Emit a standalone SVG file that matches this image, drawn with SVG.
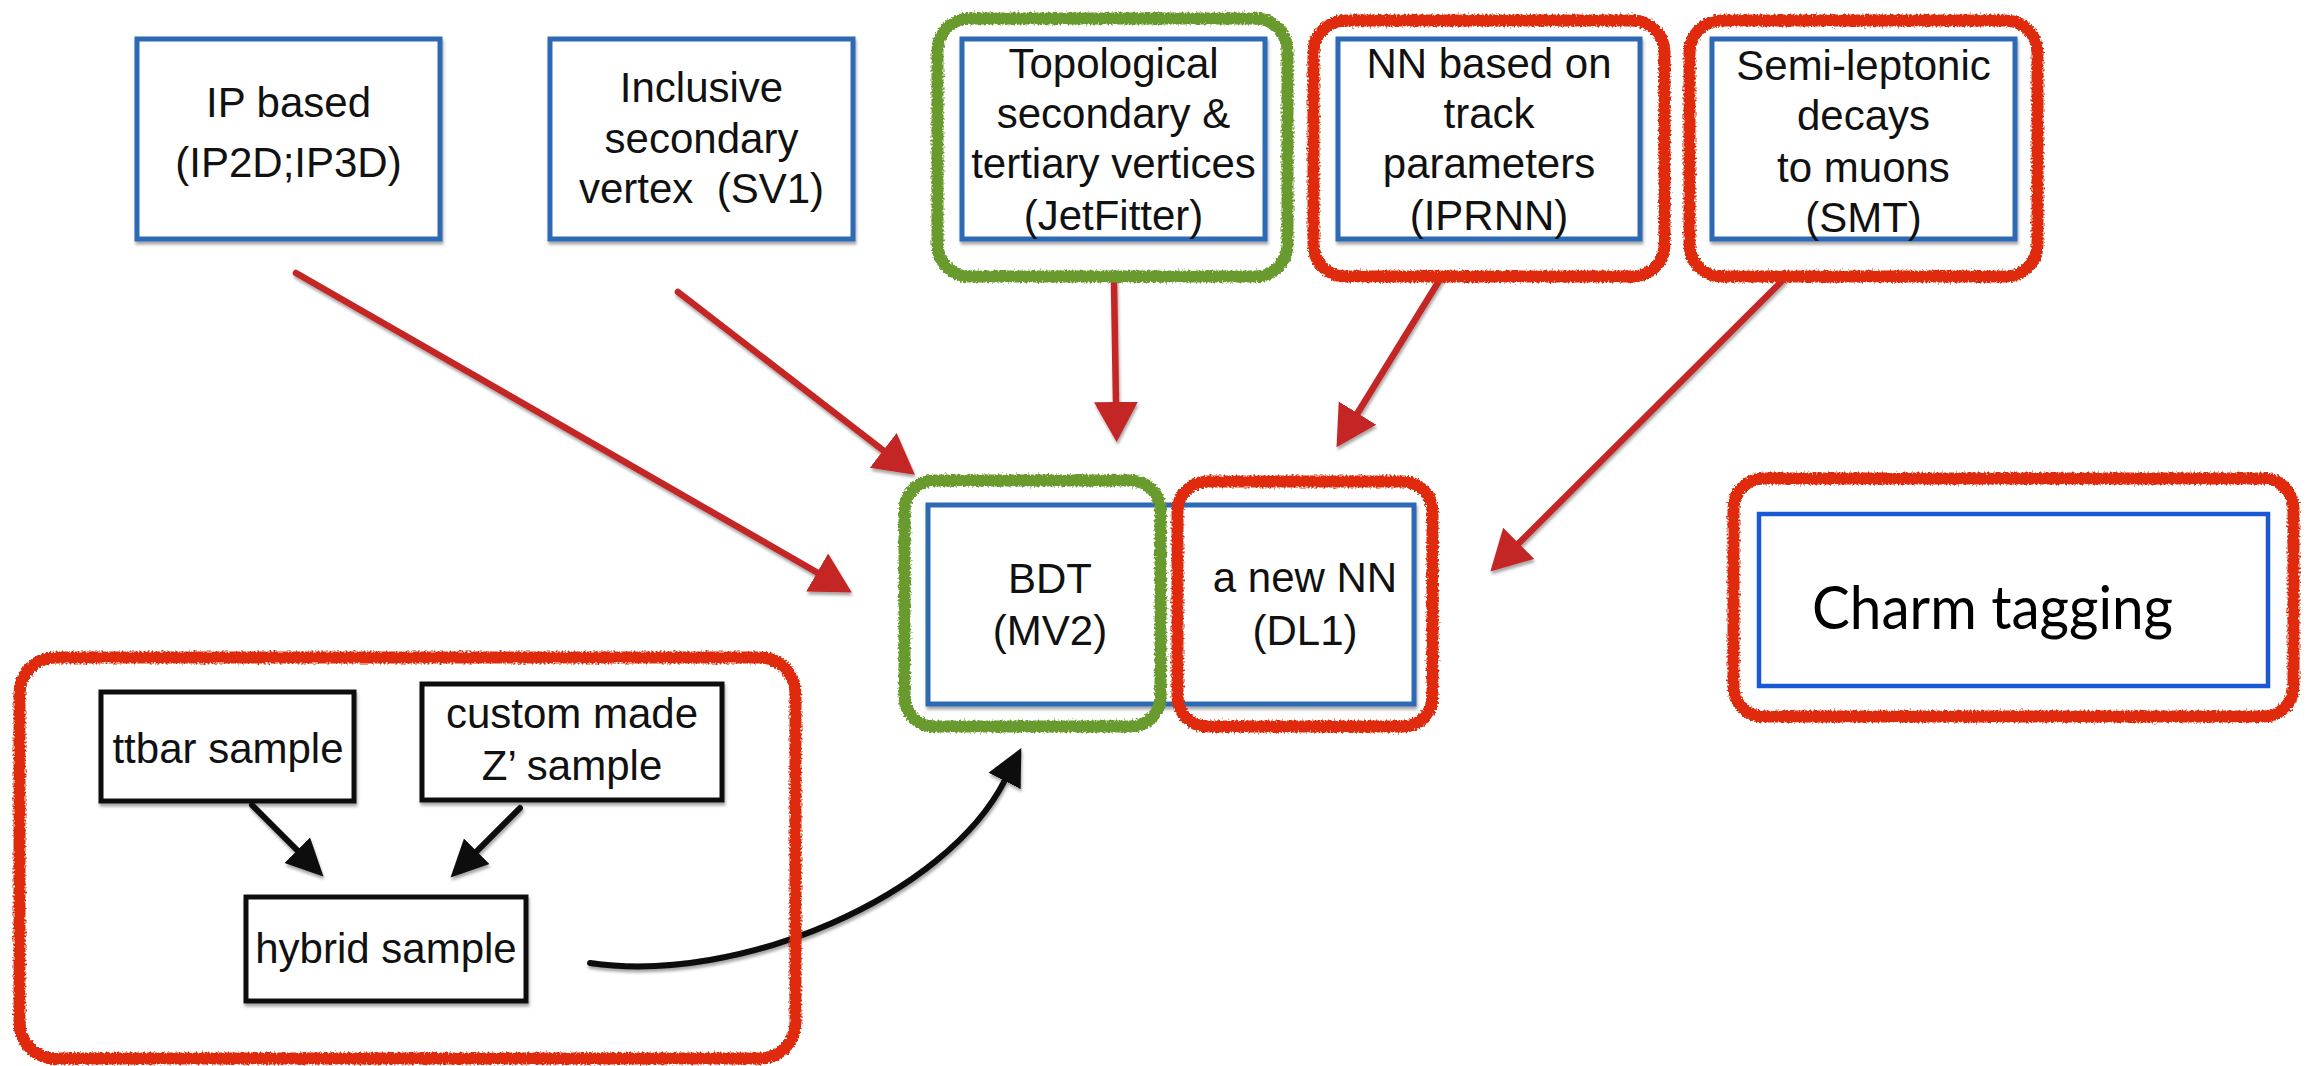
<svg xmlns="http://www.w3.org/2000/svg" width="2309" height="1066" viewBox="0 0 2309 1066">
  <defs>
    <style>
      .box{fill:#fff;stroke:#2f6ab4;stroke-width:5}
      .charm{fill:#fff;stroke:#1a58d6;stroke-width:4.5}
      .sbox{fill:#fff;stroke:#111;stroke-width:5}
      .lbl{font-family:"Liberation Sans",Arial,Helvetica,sans-serif;font-size:42px;fill:#111;text-anchor:middle}
      .big{font-family:Lato,"Liberation Sans",sans-serif;font-size:60px;fill:#000}
      .frame-red{fill:none;stroke:#e02a08;stroke-width:12}
      .frame-green{fill:none;stroke:#679a2e;stroke-width:12}
      .red-arrow{fill:none;stroke:#c42525;stroke-width:6.5;stroke-linecap:round;marker-end:url(#head-red)}
      .black-arrow{fill:none;stroke:#0a0a0a;stroke-width:6;stroke-linecap:round;marker-end:url(#head-black)}
    </style>
    <filter id="shadow" x="-10%" y="-10%" width="120%" height="125%">
      <feDropShadow dx="1" dy="3" stdDeviation="1.5" flood-color="#000" flood-opacity="0.35"/>
    </filter>
    <!-- rough crayon edge for the highlight frames -->
    <filter id="chalk" filterUnits="userSpaceOnUse" x="0" y="0" width="2309" height="1066">
      <feTurbulence type="fractalNoise" baseFrequency="0.5" numOctaves="2" seed="7" result="noise"/>
      <feDisplacementMap in="SourceGraphic" in2="noise" scale="6" xChannelSelector="R" yChannelSelector="G"/>
    </filter>
    <marker id="head-red" markerUnits="userSpaceOnUse" viewBox="0 -23 42 46" markerWidth="42" markerHeight="46" refX="1" refY="0" orient="auto">
      <path d="M0,-22 L40,0 L0,22 Z" fill="#c42525"/>
    </marker>
    <marker id="head-black" markerUnits="userSpaceOnUse" viewBox="0 -19 38 38" markerWidth="38" markerHeight="38" refX="1" refY="0" orient="auto">
      <path d="M0,-18 L37,0 L0,18 Z" fill="#0a0a0a"/>
    </marker>
  </defs>

  <rect width="2309" height="1066" fill="#fff"/>

  <!-- top row of taggers -->
  <g id="ip-based">
    <rect class="box" x="137" y="39" width="303" height="200" filter="url(#shadow)"/>
    <text class="lbl" x="288.5" y="117">IP based</text>
    <text class="lbl" x="288.5" y="177">(IP2D;IP3D)</text>
  </g>
  <g id="sv1">
    <rect class="box" x="550" y="39" width="303" height="200" filter="url(#shadow)"/>
    <text class="lbl" x="701.5" y="102">Inclusive</text>
    <text class="lbl" x="701.5" y="153">secondary</text>
    <text class="lbl" x="701.5" y="203">vertex&#160; (SV1)</text>
  </g>
  <g id="jetfitter">
    <rect class="box" x="962" y="39" width="303" height="200" filter="url(#shadow)"/>
    <text class="lbl" x="1113.5" y="78">Topological</text>
    <text class="lbl" x="1113.5" y="128">secondary &amp;</text>
    <text class="lbl" x="1113.5" y="178">tertiary vertices</text>
    <text class="lbl" x="1113.5" y="230">(JetFitter)</text>
  </g>
  <g id="iprnn">
    <rect class="box" x="1338" y="39" width="302" height="200" filter="url(#shadow)"/>
    <text class="lbl" x="1489" y="78">NN based on</text>
    <text class="lbl" x="1489" y="128">track</text>
    <text class="lbl" x="1489" y="178">parameters</text>
    <text class="lbl" x="1489" y="230">(IPRNN)</text>
  </g>
  <g id="smt">
    <rect class="box" x="1712" y="39" width="303" height="200" filter="url(#shadow)"/>
    <text class="lbl" x="1863.5" y="80">Semi-leptonic</text>
    <text class="lbl" x="1863.5" y="130">decays</text>
    <text class="lbl" x="1863.5" y="182">to muons</text>
    <text class="lbl" x="1863.5" y="232">(SMT)</text>
  </g>

  <!-- high-level taggers -->
  <g id="mv2">
    <rect class="box" x="928" y="505" width="252" height="199" filter="url(#shadow)"/>
    <text class="lbl" x="1050" y="593">BDT</text>
    <text class="lbl" x="1050" y="645">(MV2)</text>
  </g>
  <g id="dl1">
    <rect class="box" x="1180" y="505" width="234" height="199" filter="url(#shadow)"/>
    <text class="lbl" x="1305" y="592">a new NN</text>
    <text class="lbl" x="1305" y="645">(DL1)</text>
  </g>
  <g id="charm-tagging">
    <rect class="charm" x="1759" y="514" width="509" height="172"/>
    <text class="big" x="1812" y="629" textLength="361" lengthAdjust="spacingAndGlyphs">Charm tagging</text>
  </g>

  <!-- training samples -->
  <g id="ttbar-sample">
    <rect class="sbox" x="101" y="692" width="253" height="109" filter="url(#shadow)"/>
    <text class="lbl" x="228" y="763">ttbar sample</text>
  </g>
  <g id="zprime-sample">
    <rect class="sbox" x="422" y="684" width="300" height="116" filter="url(#shadow)"/>
    <text class="lbl" x="572" y="728">custom made</text>
    <text class="lbl" x="572" y="780">Z’ sample</text>
  </g>
  <g id="hybrid-sample">
    <rect class="sbox" x="246" y="897" width="280" height="104" filter="url(#shadow)"/>
    <text class="lbl" x="386" y="963">hybrid sample</text>
  </g>

  <!-- connectors -->
  <g id="connectors" filter="url(#shadow)">
    <path class="red-arrow" d="M296,273 L818,573"/>
    <path class="red-arrow" d="M678,292 L884,451"/>
    <path class="red-arrow" d="M1114,282 L1116,403"/>
    <path class="red-arrow" d="M1442,276 L1357,414"/>
    <path class="red-arrow" d="M1783,280 L1518,544"/>
    <path class="black-arrow" d="M252,805 L298,851"/>
    <path class="black-arrow" d="M520,808 L476,852"/>
    <path class="black-arrow" d="M590,963 C740,985 946,896 1005,780"/>
  </g>

  <!-- hand-drawn highlight frames -->
  <g id="frames" filter="url(#chalk)">
    <rect id="frame-jetfitter" class="frame-green" x="937.5" y="18.5" width="350" height="258" rx="32"/>
    <rect id="frame-iprnn" class="frame-red" x="1313.5" y="20.5" width="351" height="256" rx="32"/>
    <rect id="frame-smt" class="frame-red" x="1689.5" y="20.5" width="348" height="256" rx="32"/>
    <rect id="frame-mv2" class="frame-green" x="904.5" y="480.5" width="256" height="246" rx="30"/>
    <rect id="frame-dl1" class="frame-red" x="1177.5" y="481.5" width="255" height="245" rx="30"/>
    <rect id="frame-charm" class="frame-red" x="1733.5" y="478.5" width="560" height="238" rx="30"/>
    <rect id="frame-samples" class="frame-red" x="19.5" y="657.5" width="776" height="401" rx="36"/>
  </g>
</svg>
